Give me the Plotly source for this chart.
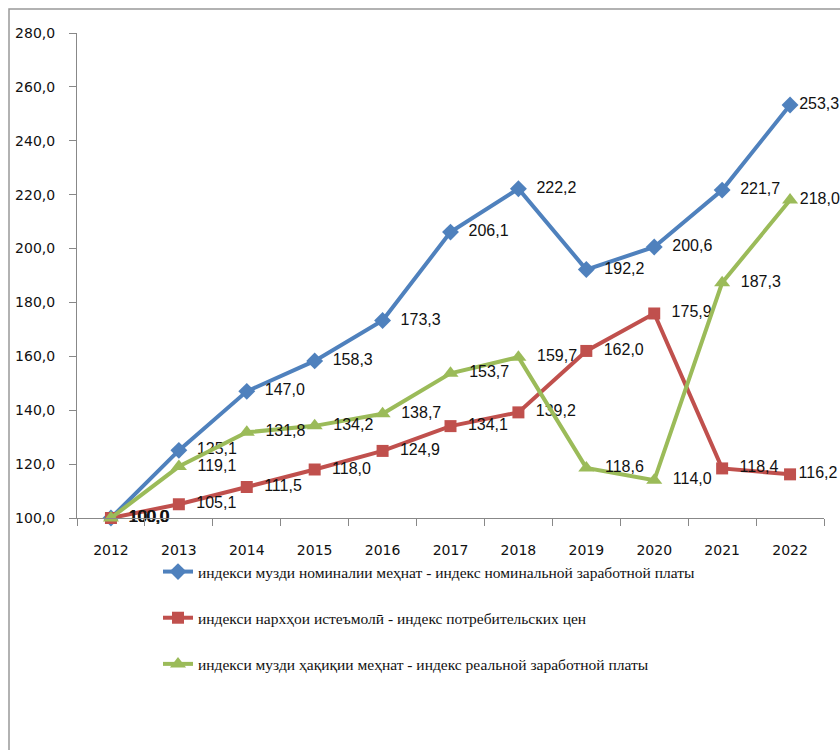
import plotly.graph_objects as go

years = ["2012", "2013", "2014", "2015", "2016", "2017", "2018", "2019", "2020", "2021", "2022"]
nominal = [100.0, 125.1, 147.0, 158.3, 173.3, 206.1, 222.2, 192.2, 200.6, 221.7, 253.3]
cpi = [100.0, 105.1, 111.5, 118.0, 124.9, 134.1, 139.2, 162.0, 175.9, 118.4, 116.2]
real = [100.0, 119.1, 131.8, 134.2, 138.7, 153.7, 159.7, 118.6, 114.0, 187.3, 218.0]

names = [
    "индекси музди номиналии меҳнат - индекс номинальной заработной платы",
    "индекси нархҳои истеъмолӣ - индекс потребительских цен",
    "индекси музди ҳақиқии меҳнат - индекс реальной заработной платы",
]
yticks = [100, 120, 140, 160, 180, 200, 220, 240, 260, 280]


def fmt(v):
    return f"{v:.1f}".replace(".", ",")


series = [
    (nominal, names[0], "#4F81BD", "diamond", 13),
    (cpi, names[1], "#C0504D", "square", 12),
    (real, names[2], "#9BBB59", "triangle-up", 14),
]

W, H = 840, 750
L, R, T, B = 77, 16, 33, H - 518
pw, ph = W - L - R, H - T - B

fig = go.Figure()
for i, (vals, name, color, sym, size) in enumerate(series):
    labels = ["  " + fmt(v) for v in vals]
    labels[-1] = fmt(vals[-1])
    fig.add_trace(go.Scatter(
        x=years, y=vals, name=name, legendgroup=f"g{i}",
        mode="lines+markers+text",
        text=labels,
        textposition="middle right",
        textfont=dict(family="Liberation Sans", size=16, color="#111111"),
        line=dict(color=color, width=4),
        marker=dict(symbol=sym, size=size, color=color),
        cliponaxis=False,
    ))

fig.update_layout(
    width=W, height=H,
    margin=dict(l=L, r=R, t=T, b=B),
    paper_bgcolor="white", plot_bgcolor="white",
    showlegend=True,
    legend=dict(
        x=(158 - L) / pw, y=(T + ph - 555) / ph, xanchor="left", yanchor="top",
        orientation="v", tracegroupgap=23,
        font=dict(family="Liberation Serif", size=15.5, color="#111111"),
        bgcolor="rgba(0,0,0,0)",
    ),
    xaxis=dict(
        type="category", range=[-0.5, 10.5],
        showline=True, linecolor="#888888", linewidth=1,
        ticks="outside", tickson="boundaries", ticklen=7, tickcolor="#888888",
        ticklabelstandoff=19,
        showgrid=False, zeroline=False,
        tickfont=dict(family="DejaVu Sans", size=14, color="#111111"),
    ),
    yaxis=dict(
        range=[100, 280], tickvals=yticks,
        ticktext=[fmt(v) for v in yticks],
        showline=True, linecolor="#888888", linewidth=1,
        ticks="outside", ticklen=7, tickcolor="#888888",
        ticklabelstandoff=11,
        showgrid=False, zeroline=False,
        tickfont=dict(family="DejaVu Sans", size=14, color="#111111"),
    ),
    shapes=[dict(
        type="rect", xref="paper", yref="paper",
        x0=(9 - L) / pw, x1=1.2, y0=-0.7, y1=(T + ph - 9) / ph,
        line=dict(color="#999999", width=1.5), fillcolor="rgba(0,0,0,0)",
        layer="below",
    )],
)

fig.write_html(
    "out.html",
    config={"displayModeBar": False},
    post_script="document.body.style.margin='0';document.body.style.overflow='hidden';",
)
